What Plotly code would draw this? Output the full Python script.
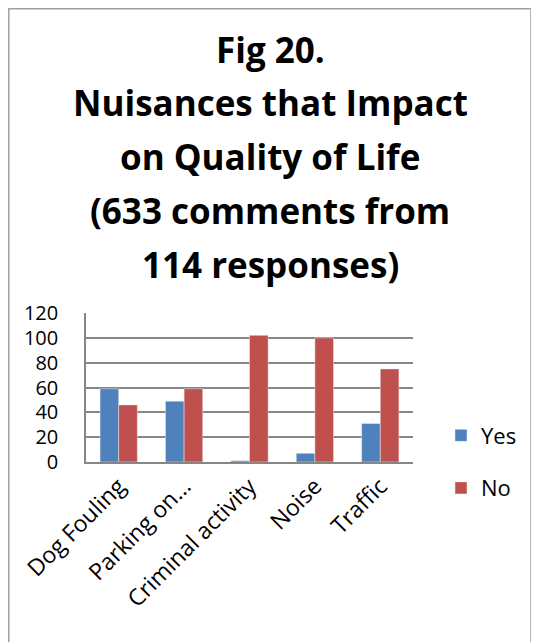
import plotly.graph_objects as go

categories = ["Dog Fouling", "Parking on...", "Criminal activity", "Noise", "Traffic"]
yes_values = [59, 49, 1, 7, 31]
no_values = [46, 59, 102, 100, 75]
y_ticks = [0, 20, 40, 60, 80, 100, 120]
title_lines = ["Fig 20.", "Nuisances that Impact", "on Quality of Life",
               "(633 comments from", "114 responses)"]

# the page puts the figure 8 px in from the top-left corner
OFF = 8
W, H = 539 - OFF, 642 - OFF
L, R, T, B = 86 - OFF, 126, 313 - OFF, 180
ph = H - T - B
pw = W - L - R


def px_x(x):
    return (x - OFF - L) / pw


def px_y(y):
    return (H - B - (y - OFF)) / ph


fig = go.Figure()
fig.add_trace(go.Bar(x=categories, y=yes_values, name="Yes", marker_color="#4F81BD",
                     legendgroup="a"))
fig.add_trace(go.Bar(x=categories, y=no_values, name="No", marker_color="#C0504D",
                     legendgroup="b"))

fig.update_layout(
    width=W, height=H,
    paper_bgcolor="white", plot_bgcolor="white",
    font=dict(family="Open Sans", size=22, color="black"),
    margin=dict(l=L, r=R, t=T, b=B, autoexpand=False),
    barmode="group", bargap=0.43, bargroupgap=0,
    showlegend=True,
    legend=dict(x=px_x(441), y=px_y(462), xanchor="left", yanchor="middle",
                traceorder="grouped", tracegroupgap=21,
                font=dict(size=22)),
    xaxis=dict(tickangle=-45, showline=True, linecolor="#868686", linewidth=1.5,
               showgrid=False, tickfont=dict(size=23), automargin=False),
    yaxis=dict(range=[0, 120], tickvals=y_ticks, showline=True, linecolor="#868686",
               linewidth=1.5, showgrid=True, gridcolor="#868686", gridwidth=1.5,
               ticks="outside", ticklen=22, tickcolor="white",
               tickfont=dict(size=20), automargin=False),
)

# title, one annotation per line (wide line spacing)
for i, line in enumerate(title_lines):
    fig.add_annotation(text="<b>" + line + "</b>", xref="paper", yref="paper",
                       x=px_x(270), y=px_y(49 + i * 53.8),
                       xanchor="center", yanchor="middle", showarrow=False,
                       font=dict(family="Open Sans", size=35, color="black"))

# thin frame around the chart
fig.add_shape(type="rect", xref="paper", yref="paper",
              x0=(0.8 - L) / pw, x1=px_x(531),
              y0=px_y(700), y1=(H - B - 0.8) / ph,
              line=dict(color="#A0A0A0", width=1.5))

fig.write_html("out.html")
